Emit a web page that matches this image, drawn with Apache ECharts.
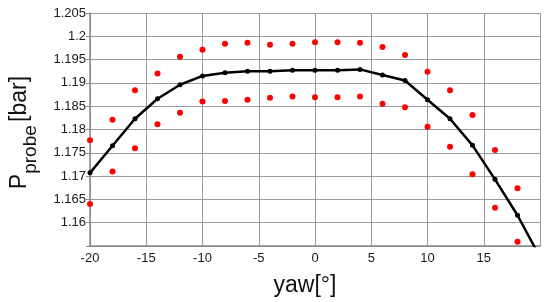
<!DOCTYPE html>
<html>
<head>
    <meta charset="utf-8">
    <title>P probe vs yaw</title>
    <script src="https://cdn.jsdelivr.net/npm/echarts@6/dist/echarts.min.js"></script>
    <style>
        html, body { margin: 0; padding: 0; background: #fff; }
    </style>
</head>
<body>
    <div id="main" style="width: 550px;height:302px;"></div>

    <script type="text/javascript">
        // yaw angle [deg]
        var yaw = [-20, -18, -16, -14, -12, -10, -8, -6, -4, -2, 0, 2, 4, 6, 8, 10, 12, 14, 16, 18, 20];
        // mean probe pressure [bar]
        var pMean = [1.1707, 1.1765, 1.1823, 1.1866, 1.1896, 1.1915, 1.1922, 1.1925, 1.1925, 1.1927, 1.1927,
                     1.1927, 1.1929, 1.1917, 1.1905, 1.1864, 1.1823, 1.1766, 1.1693, 1.1616, 1.1526];
        // upper / lower bounds (red dots), -20 .. 18
        var yawBand = [-20, -18, -16, -14, -12, -10, -8, -6, -4, -2, 0, 2, 4, 6, 8, 10, 12, 14, 16, 18];
        var pUpper = [1.1777, 1.1821, 1.1884, 1.1920, 1.1956, 1.1971, 1.1984, 1.1986, 1.1982, 1.1984,
                      1.1987, 1.1987, 1.1986, 1.1977, 1.1960, 1.1924, 1.1884, 1.1831, 1.1756, 1.1674];
        var pLower = [1.1640, 1.1710, 1.1760, 1.1811, 1.1836, 1.1860, 1.1861, 1.1864, 1.1868, 1.1871,
                      1.1869, 1.1869, 1.1871, 1.1855, 1.1848, 1.1806, 1.1763, 1.1704, 1.1632, 1.1559];

        function pairs(xs, ys) {
            var out = [];
            for (var i = 0; i < xs.length; i++) {
                out.push([xs[i], ys[i]]);
            }
            return out;
        }

        var myChart = echarts.init(document.getElementById('main'));

        var font = 'Liberation Sans, Arial, sans-serif';

        var option = {
            animation: false,
            grid: { left: 84, right: 10, top: 13, bottom: 45 },
            xAxis: {
                type: 'value',
                min: -20, max: 20, interval: 5,
                name: 'yaw[°]',
                nameLocation: 'middle',
                nameGap: 28,
                nameTextStyle: { fontFamily: font, fontSize: 23, color: '#111', padding: [0, 20, 0, 0] },
                axisLine: { show: true, onZero: false, lineStyle: { color: '#888', width: 1.5 } },
                axisTick: { show: false },
                axisLabel: {
                    fontFamily: font, fontSize: 13, color: '#1a1a1a', margin: 6,
                    formatter: function (v) { return v === 20 ? '' : v; }
                },
                splitLine: { show: true, lineStyle: { color: '#9a9a9a', width: 1 } }
            },
            yAxis: {
                type: 'value',
                min: 1.155, max: 1.205, interval: 0.005,
                name: '{p|P}{sub|probe} {p|[bar]}',
                nameLocation: 'middle',
                nameRotate: 90,
                nameGap: 50,
                nameTextStyle: {
                    fontFamily: font, color: '#111',
                    padding: [0, 6, 0, 0],
                    rich: {
                        p: { fontFamily: font, fontSize: 23, color: '#111', lineHeight: 32, verticalAlign: 'top' },
                        sub: { fontFamily: font, fontSize: 19, color: '#111', lineHeight: 32, verticalAlign: 'bottom', padding: [12, 0, 0, 0] }
                    }
                },
                axisLine: { show: true, onZero: false, lineStyle: { color: '#888', width: 1.5 } },
                axisTick: { show: true, length: 4, lineStyle: { color: '#888' } },
                axisLabel: {
                    fontFamily: font, fontSize: 13, color: '#1a1a1a', margin: 4,
                    formatter: function (v) { return v === 1.155 ? '' : String(+v.toFixed(3)); }
                },
                splitLine: { show: true, lineStyle: { color: '#9a9a9a', width: 1 } }
            },
            series: [
                {
                    name: 'mean',
                    type: 'line',
                    data: pairs(yaw, pMean),
                    symbol: 'circle',
                    symbolSize: 5,
                    lineStyle: { color: '#000', width: 2.5 },
                    itemStyle: { color: '#000' },
                    clip: true,
                    z: 3
                },
                {
                    name: 'upper',
                    type: 'scatter',
                    data: pairs(yawBand, pUpper),
                    symbolSize: 6,
                    itemStyle: { color: '#ff0000', opacity: 1 },
                    z: 2
                },
                {
                    name: 'lower',
                    type: 'scatter',
                    data: pairs(yawBand, pLower),
                    symbolSize: 6,
                    itemStyle: { color: '#ff0000', opacity: 1 },
                    z: 2
                }
            ]
        };

        myChart.setOption(option);
    </script>
</body>
</html>
